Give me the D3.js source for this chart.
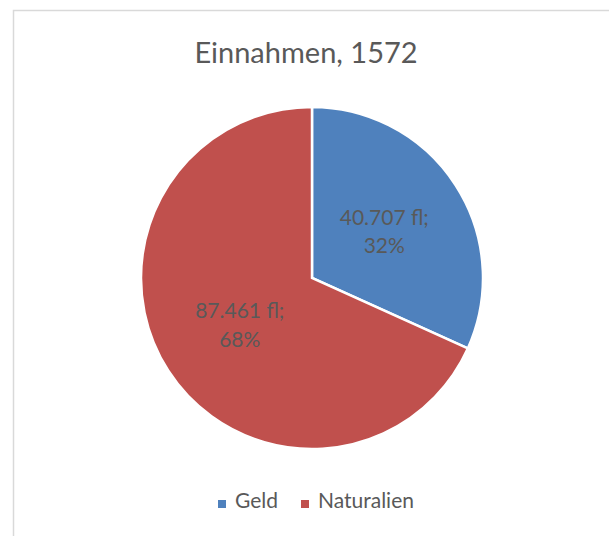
<!DOCTYPE html>
<html><head><meta charset="utf-8">
<script src="https://cdn.jsdelivr.net/npm/d3@7"></script>
<style>body{margin:0;background:#fff}svg{display:block}</style>
</head><body>
<script>
const categories = ["Geld", "Naturalien"];
const values = [40707, 87461];
const valueLabels = ["40.707 fl;", "87.461 fl;"];
const colors = ["#4F81BD", "#C0504D"];
const title = "Einnahmen, 1572";

const W = 609, H = 536;
const svg = d3.select("body").append("svg").attr("width", W).attr("height", H);
const font = "Lato, 'Open Sans', sans-serif";
const textColor = "#595959";

// chart frame (left & top visible)
svg.append("path").attr("d", `M13.5,${H} V10.5 H${W}`).attr("fill","none").attr("stroke","#d9d9d9").attr("stroke-width",1.5);

svg.append("text").attr("x", 306).attr("y", 63).attr("text-anchor","middle")
  .attr("font-family", font).attr("font-size", 29).attr("fill", textColor).text(title);

const cx = 312, cy = 278, r = 171;
const total = d3.sum(values);
const pie = d3.pie().sort(null).value(d => d)(values);
const arc = d3.arc().innerRadius(0).outerRadius(r);
const labelArc = d3.arc().innerRadius(86*2).outerRadius(0); // centroid at 86
const g = svg.append("g").attr("transform", `translate(${cx},${cy})`);
g.selectAll("path").data(pie).join("path")
  .attr("d", arc).attr("fill", (d,i) => colors[i])
  .attr("stroke", "#fff").attr("stroke-width", 2.5).attr("stroke-linejoin","miter");

g.selectAll("text.lbl").data(pie).join("text").attr("class","lbl")
  .attr("transform", d => { const c = labelArc.centroid(d); return `translate(${c[0]},${c[1]})`; })
  .attr("text-anchor","middle").attr("font-family", font).attr("font-size", 21).attr("fill", textColor)
  .each(function(d,i){
    const t = d3.select(this);
    t.append("tspan").attr("x",0).attr("y",-6.5).text(valueLabels[i]);
    t.append("tspan").attr("x",0).attr("y",22).text(Math.round(d.value/total*100) + "%");
  });

// legend
const legendX = [218, 301];
const lg = svg.append("g");
categories.forEach((c,i) => {
  lg.append("rect").attr("x", legendX[i]).attr("y", 500).attr("width", 8).attr("height", 8).attr("fill", colors[i]);
  lg.append("text").attr("x", legendX[i] + 17).attr("y", 508).attr("font-family", font).attr("font-size", 21)
    .attr("fill", textColor).text(c);
});
</script>
</body></html>
